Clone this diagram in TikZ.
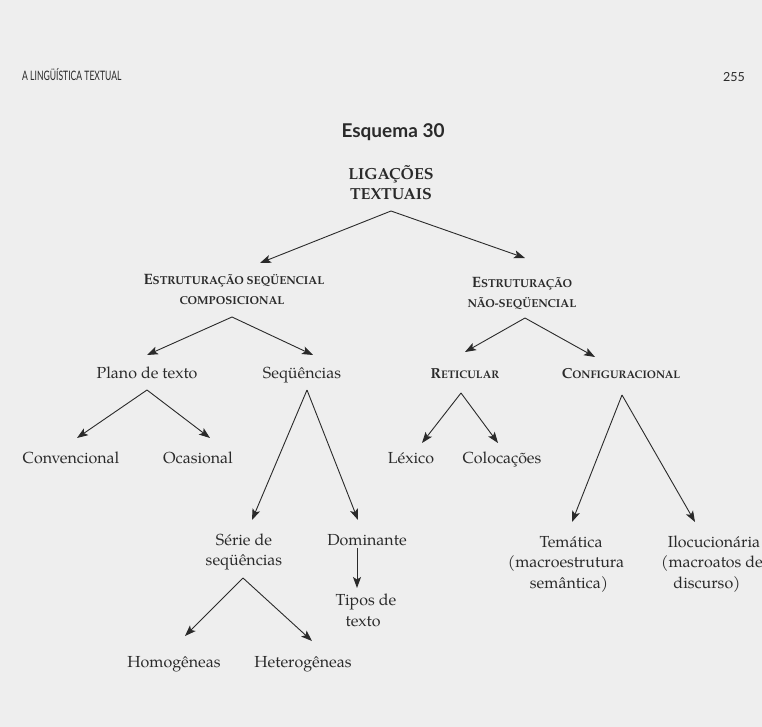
\documentclass[tikz,border=0pt]{standalone}
\usepackage{fontspec}
\setmainfont{TeX Gyre Pagella}
\newfontfamily\hdfont{Lato}
\usetikzlibrary{arrows.meta,calc}
\definecolor{ink}{HTML}{2A2A2A}
\definecolor{pagebg}{HTML}{EEEEEE}
\newcommand{\bsc}[2]{{\fontsize{15}{18}\selectfont #1}{\fontsize{11.5}{18}\selectfont #2}}
\newcommand{\bscb}[2]{{\fontsize{14.5}{18}\selectfont #1}{\fontsize{11}{18}\selectfont #2}}
\tikzset{
  lbl/.style={anchor=base, inner sep=0pt, text=ink, font=\fontsize{16}{20}\selectfont},
  capslbl/.style={anchor=base, inner sep=0pt, text=ink, font=\fontsize{16}{20}\selectfont\bfseries},
  sclbl/.style={anchor=base, inner sep=0pt, text=ink, font=\bfseries},
  arr/.style={draw=ink, line width=0.9pt, -{Stealth[length=11pt,width=8pt,inset=2.5pt]}},
}
\begin{document}
\begin{tikzpicture}[x=1pt,y=-1pt]
\fill[pagebg] (0,0) rectangle (762,727);
\useasboundingbox (0,0) rectangle (762,727);

% header
\node[anchor=base west, inner sep=0pt, text=ink] (head) at (22,81)
  {\scalebox{0.66}[1]{\hdfont\fontsize{13}{15}\selectfont A LINGÜÍSTICA TEXTUAL}};
\node[anchor=base east, inner sep=0pt, text=ink, font=\hdfont\fontsize{12.5}{14}\selectfont] (page) at (745,82) {255};

% title
\node[anchor=base, inner sep=0pt, text=ink, font=\hdfont\bfseries\fontsize{19}{22}\selectfont] (title) at (393,138) {Esquema 30};

% nodes
\node[capslbl] (lig1) at (391,180) {LIGAÇÕES};
\node[capslbl] (lig2) at (391,200) {TEXTUAIS};

\node[sclbl] (estS1) at (234,284) {\bsc{E}{STRUTURAÇÃO SEQÜENCIAL}};
\node[sclbl] (estS2) at (232,304) {\bsc{}{COMPOSICIONAL}};
\node[sclbl] (estN1) at (522,287) {\bsc{E}{STRUTURAÇÃO}};
\node[sclbl] (estN2) at (522,307) {\bsc{}{NÃO-SEQÜENCIAL}};

\node[lbl] (plano) at (147,378) {Plano de texto};
\node[lbl] (seq) at (302,378) {Seqüências};
\node[sclbl] (ret) at (465,378) {\bscb{R}{ETICULAR}};
\node[sclbl] (conf) at (621,378) {\bscb{C}{ONFIGURACIONAL}};

\node[lbl] (conv) at (71,463) {Convencional};
\node[lbl] (ocas) at (198,463) {Ocasional};
\node[lbl] (lex) at (411,463) {Léxico};
\node[lbl] (col) at (502,463) {Colocações};

\node[lbl] (serie1) at (244,545) {Série de};
\node[lbl] (serie2) at (244,565) {seqüências};
\node[lbl] (dom) at (367,545) {Dominante};
\node[lbl] (tipos1) at (366,605) {Tipos de};
\node[lbl] (tipos2) at (363,626) {texto};

\node[lbl] (tem1) at (571,547) {Temática};
\node[lbl] (tem2) at (566,567) {(macroestrutura};
\node[lbl] (tem3) at (569,588) {semântica)};
\node[lbl] (ilo1) at (714,547) {Ilocucionária};
\node[lbl] (ilo2) at (712,567) {(macroatos de};
\node[lbl] (ilo3) at (707,588) {discurso)};

\node[lbl] (hom) at (174,667) {Homogêneas};
\node[lbl] (het) at (303,667) {Heterogêneas};

% apexes
\coordinate (ligA) at ($(lig2.base)+(0,11)$);
\coordinate (estSA) at ($(estS2.base)+(0,13)$);
\coordinate (estNA) at ($(estN2.base)+(3,11)$);
\coordinate (planoA) at ($(plano.base)+(0,12)$);
\coordinate (seqA) at ($(seq.base)+(5,12)$);
\coordinate (retA) at ($(ret.base)+(-4,15)$);
\coordinate (confA) at ($(conf.base)+(1,17)$);
\coordinate (serieA) at ($(serie2.base)+(-1,13)$);

% connectors
\draw[arr] (ligA) -- ($(estS1.base)+(26,-21)$);
\draw[arr] (ligA) -- ($(estN1.base)+(3,-29)$);
\draw[arr] (estSA) -- ($(plano.base)+(0,-23)$);
\draw[arr] (estSA) -- ($(seq.base)+(11,-23)$);
\draw[arr] (estNA) -- ($(ret.base)+(0,-26)$);
\draw[arr] (estNA) -- ($(conf.base)+(-26,-21)$);
\draw[arr] (planoA) -- ($(conv.base)+(6,-25)$);
\draw[arr] (planoA) -- ($(ocas.base)+(12,-25)$);
\draw[arr] (seqA) -- ($(serie1.base)+(8,-25)$);
\draw[arr] (seqA) -- ($(dom.base)+(-9,-25)$);
\draw[arr] (retA) -- ($(lex.base)+(11,-20)$);
\draw[arr] (retA) -- ($(col.base)+(-4,-20)$);
\draw[arr] (confA) -- ($(tem1.base)+(1,-25)$);
\draw[arr] (confA) -- ($(ilo1.base)+(-19,-25)$);
\draw[arr] ($(dom.base)+(-10,3)$) -- ($(tipos1.base)+(-9,-17)$);
\draw[arr] (serieA) -- ($(hom.base)+(11,-31)$);
\draw[arr] (serieA) -- ($(het.base)+(9,-26)$);
\end{tikzpicture}
\end{document}
